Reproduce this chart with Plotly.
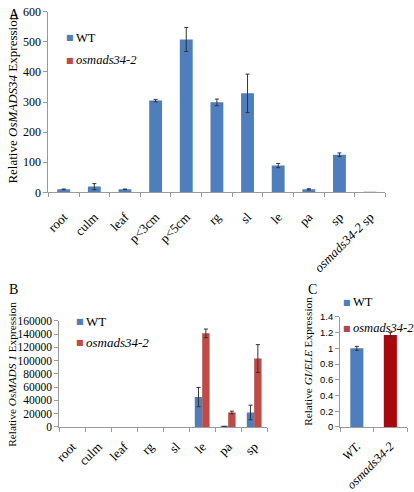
import plotly.graph_objects as go

W, H = 414, 492

# ---------------- data ----------------
catsA = ["root", "culm", "leaf", "p<3cm", "p<5cm", "rg", "sl", "le", "pa", "sp", "<i>osmads34-2</i> sp"]
wtA = [10, 19, 10, 305, 508, 299, 329, 89, 10, 125, None]
wtA_err = [1, 10, 1, 4, 40, 11, 64, 7, 2, 6, None]
mutA = [None, None, None, None, None, None, None, None, None, None, 1.5]
mutA_err = [None] * 11

catsB = ["root", "culm", "leaf", "rg", "sl", "le", "pa", "sp"]
wtB = [0, 0, 0, 0, 0, 45000, 500, 21800]
wtB_err = [0, 0, 0, 0, 0, 14500, 300, 11000]
mutB = [0, 0, 0, 0, 0, 141000, 21800, 103000]
mutB_err = [0, 0, 0, 0, 0, 6500, 2000, 21000]

catsC = ["<i>WT.</i>", "<i>osmads34-2</i>"]
valC = [1.0, 1.17]
errC = [0.025, 0.03]

ticksA = [0, 100, 200, 300, 400, 500, 600]
ticksB = [0, 20000, 40000, 60000, 80000, 100000, 120000, 140000, 160000]
ticksC = [0, 0.2, 0.4, 0.6, 0.8, 1, 1.2, 1.4]

# ---------------- style ----------------
BLUE = "#4F7EBD"
RED = "#BE4B48"
DARKRED = "#A8070D"
AXIS = "#9A9A9A"
SERIF = "Liberation Serif, Times New Roman, serif"
SANS = "Liberation Sans, Arial, sans-serif"


def px(x):
    return x / W


def py(y):
    return 1 - y / H


def nz(vals):
    # zero expression -> nothing drawn (no bar, no error cap)
    return [v if v else None for v in vals]


err_style = dict(type="data", color="#333333", thickness=1, width=2, visible=True)

fig = go.Figure()

# Panel A
fig.add_trace(go.Bar(x=catsA, y=wtA, width=0.42, offset=-0.21, name="WT",
                     marker=dict(color=BLUE, line=dict(width=0)),
                     error_y=dict(array=wtA_err, **err_style),
                     xaxis="x", yaxis="y", showlegend=False))
fig.add_trace(go.Bar(x=catsA, y=mutA, width=0.42, offset=-0.21, name="osmads34-2",
                     marker=dict(color=RED, line=dict(width=0)),
                     xaxis="x", yaxis="y", showlegend=False))

# Panel B
fig.add_trace(go.Bar(x=catsB, y=nz(wtB), width=0.285, offset=-0.285, name="WT",
                     marker=dict(color=BLUE, line=dict(width=0)),
                     error_y=dict(array=nz(wtB_err), **err_style),
                     xaxis="x2", yaxis="y2", showlegend=False))
fig.add_trace(go.Bar(x=catsB, y=nz(mutB), width=0.285, offset=0, name="osmads34-2",
                     marker=dict(color=RED, line=dict(width=0)),
                     error_y=dict(array=nz(mutB_err), **err_style),
                     xaxis="x2", yaxis="y2", showlegend=False))

# Panel C
fig.add_trace(go.Bar(x=catsC, y=valC, width=0.39,
                     marker=dict(color=[BLUE, DARKRED], line=dict(width=0)),
                     error_y=dict(array=errC, **err_style),
                     xaxis="x3", yaxis="y3", showlegend=False))

xcommon = dict(showline=True, linecolor=AXIS, linewidth=1, ticks="outside", tickson="boundaries",
               ticklen=4, tickcolor=AXIS, tickangle=-45, showgrid=False, zeroline=False,
               fixedrange=True)
ycommon = dict(showline=True, linecolor=AXIS, linewidth=1, ticks="outside", ticklen=4,
               tickcolor=AXIS, showgrid=False, zeroline=False, fixedrange=True)

fig.update_layout(
    width=W, height=H,
    margin=dict(l=0, r=0, t=0, b=0),
    paper_bgcolor="white", plot_bgcolor="white",
    barmode="overlay",
    xaxis=dict(domain=[px(43), px(385)], anchor="y", ticklabelstandoff=11,
               tickfont=dict(family=SERIF, size=13, color="black"), **xcommon),
    yaxis=dict(domain=[py(193), py(6)], anchor="x", range=[0, 600], tickvals=ticksA,
               tickfont=dict(family=SERIF, size=12, color="black"), **ycommon),
    xaxis2=dict(domain=[px(54), px(265)], anchor="y2", ticklabelstandoff=6,
                categoryorder="array", categoryarray=catsB,
                tickfont=dict(family=SERIF, size=13, color="black"), **xcommon),
    yaxis2=dict(domain=[py(436), py(326)], anchor="x2", range=[0, 160000], tickvals=ticksB,
                tickformat="d",
                tickfont=dict(family=SERIF, size=11.5, color="black"), **ycommon),
    xaxis3=dict(domain=[px(339), px(407)], anchor="y3", ticklabelstandoff=6,
                tickfont=dict(family=SERIF, size=12.5, color="black"), **xcommon),
    yaxis3=dict(domain=[py(436), py(322)], anchor="x3", range=[0, 1.4], tickvals=ticksC,
                ticktext=[("%g" % v) for v in ticksC],
                tickfont=dict(family=SANS, size=9.5, color="black"), **ycommon),
)

ann = []


def label(x, y, text, size=13, xanchor="left", angle=0, family=SERIF, color="black"):
    ann.append(dict(x=px(x), y=py(y), xref="paper", yref="paper", text=text, showarrow=False,
                    xanchor=xanchor, yanchor="middle", textangle=angle,
                    font=dict(family=family, size=size, color=color)))


def legend_item(x, y, color, text, size):
    ann.append(dict(x=px(x), y=py(y), xref="paper", yref="paper", text="■", showarrow=False,
                    xanchor="center", yanchor="middle",
                    font=dict(family="DejaVu Sans", size=8, color=color)))
    label(x + 4, y, text, size=size)


# panel letters
label(1, 9, "A", size=14)
label(1, 294, "B", size=14)
label(304, 294, "C", size=14)

# axis titles
label(7, 96, "Relative <i>OsMADS34</i> Expression", size=13, xanchor="center", angle=-90)
label(6, 381, "Relative <i>OsMADS 1</i> Expression", size=11.3, xanchor="center", angle=-90)
label(307, 368, "Relative <i>GI/ELE</i> Expression", size=11.3, xanchor="center", angle=-90)

# legends
legend_item(64.5, 33, BLUE, "WT", 12.5)
legend_item(64.5, 56, RED, "<i>osmads34-2</i>", 12.5)
legend_item(75.5, 327, BLUE, "WT", 13)
legend_item(75.5, 349, RED, "<i>osmads34-2</i>", 13)
legend_item(346, 307, BLUE, "WT", 12.5)
legend_item(346, 334, "#B04848", "<i>osmads34-2</i>", 12.5)

fig.update_layout(annotations=ann)

fig.write_html("out.html", config={"displayModeBar": False},
               post_script="document.body.style.margin='0px';")
